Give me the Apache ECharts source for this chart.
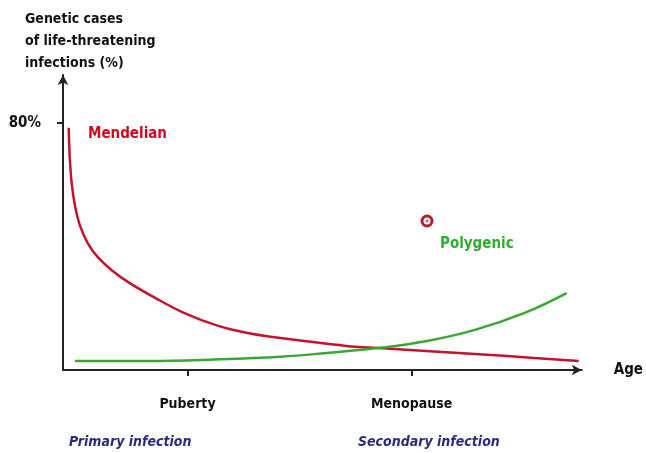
<!DOCTYPE html>
<html>
<head>
<meta charset="utf-8">
<script src="https://cdn.jsdelivr.net/npm/echarts@6/dist/echarts.min.js"></script>
<style>
  html, body { margin: 0; padding: 0; background: #fff; }
  #chart { width: 646px; height: 453px; }
</style>
</head>
<body>
<div id="chart"></div>
<script>
// age axis runs 0..100 (no real units), y is % of cases
var mendelian = [
  [1.1, 78.4], [1.33, 68.0], [1.71, 59.9], [2.29, 53.4], [3.24, 46.9],
  [4.76, 41.1], [6.67, 36.6], [9.33, 32.4], [12.8, 28.2], [17.5, 23.6],
  [23.2, 18.6], [29.9, 14.3], [35.6, 12.0], [40.4, 10.7], [45.1, 9.7],
  [54.6, 7.8], [60.8, 7.1], [73.1, 5.8], [85.7, 4.5], [99.4, 2.9]
];
var polygenic = [
  [2.3, 2.9], [16.6, 2.9], [29.3, 3.4], [41.9, 4.3], [51.4, 5.6], [60.8, 7.1],
  [69.9, 9.3], [79.4, 13.0], [89.0, 18.5], [97.1, 24.9]
];
var ageTicks = [24, 67.2];
var ageLabels = ['Puberty', 'Menopause'];
var yTicks = [80];

var FONT = "'Liberation Sans Narrow', 'DejaVu Sans Condensed', 'Liberation Sans', sans-serif";
var chart = echarts.init(document.getElementById('chart'));

var option = {
  animation: false,
  backgroundColor: '#fff',
  grid: { left: 63, right: 58, top: 75, bottom: 83 },
  xAxis: {
    type: 'value',
    min: 0,
    max: 100,
    name: 'Age',
    nameLocation: 'end',
    nameGap: 32,
    nameTextStyle: { fontFamily: FONT, fontWeight: 'bold', fontSize: 15, color: '#111' },
    splitLine: { show: false },
    axisLine: { show: true, lineStyle: { color: '#222', width: 2 }, symbol: ['none', 'arrow'], symbolSize: [8, 10] },
    axisTick: { show: true, customValues: ageTicks, length: 6, lineStyle: { color: '#222', width: 2 } },
    axisLabel: {
      customValues: ageTicks,
      margin: 27,
      fontFamily: FONT, fontWeight: 'bold', fontSize: 14, color: '#111',
      formatter: function (v) { return ageLabels[ageTicks.indexOf(v)] || ''; }
    }
  },
  yAxis: {
    type: 'value',
    min: 0,
    max: 95.5,
    splitLine: { show: false },
    axisLine: { show: true, lineStyle: { color: '#222', width: 2 }, symbol: ['none', 'arrow'], symbolSize: [8, 10] },
    axisTick: { show: true, customValues: yTicks, length: 6, lineStyle: { color: '#222', width: 2 } },
    axisLabel: {
      customValues: yTicks,
      margin: 22,
      fontFamily: FONT, fontWeight: 'bold', fontSize: 15, color: '#111',
      formatter: '{value}%'
    }
  },
  series: [
    {
      name: 'Mendelian',
      type: 'line',
      data: mendelian,
      smooth: 0.4,
      showSymbol: false,
      lineStyle: { color: '#c4122f', width: 2.5 }
    },
    {
      name: 'Polygenic',
      type: 'line',
      data: polygenic,
      smooth: 0.4,
      showSymbol: false,
      lineStyle: { color: '#38a832', width: 2.5 }
    }
  ],
  graphic: [
    {
      type: 'text', left: 25, top: 8,
      style: {
        text: 'Genetic cases\nof life-threatening\ninfections (%)',
        font: 'bold 14px ' + FONT, fill: '#111', lineHeight: 22
      }
    },
    { type: 'text', left: 88, top: 127, style: { text: 'Mendelian', font: 'bold 15px ' + FONT, fill: '#d4061f' } },
    { type: 'text', left: 440, top: 237, style: { text: 'Polygenic', font: 'bold 15px ' + FONT, fill: '#2cb02c' } },
    { type: 'circle', shape: { cx: 427, cy: 221, r: 6.5 }, style: { fill: '#b3202a' } },
    { type: 'circle', shape: { cx: 427, cy: 221, r: 3.5 }, style: { fill: '#f4eeee' } },
    { type: 'circle', shape: { cx: 427, cy: 221, r: 1.5 }, style: { fill: '#888' } },
    { type: 'text', left: 69, top: 435, style: { text: 'Primary infection', font: 'italic bold 14px ' + FONT, fill: '#2a2a80' } },
    { type: 'text', left: 358, top: 435, style: { text: 'Secondary infection', font: 'italic bold 14px ' + FONT, fill: '#2a2a80' } }
  ]
};
chart.setOption(option);
</script>
</body>
</html>
